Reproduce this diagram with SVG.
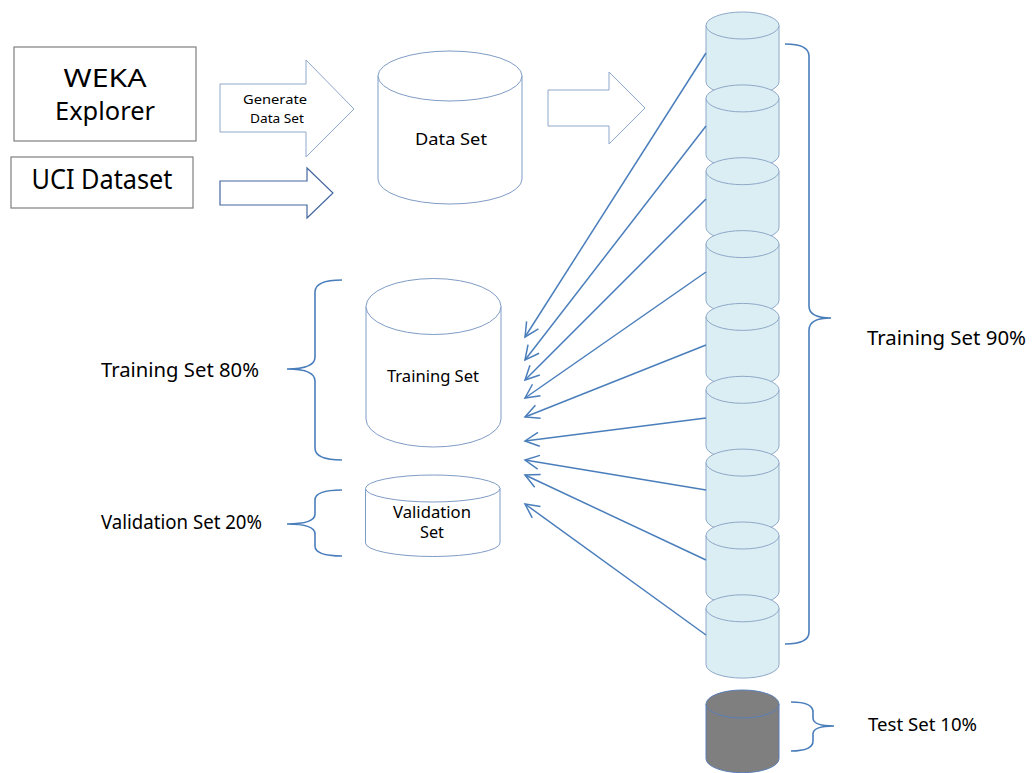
<svg xmlns="http://www.w3.org/2000/svg" width="1034" height="773" viewBox="0 0 1034 773">
<style>
text{font-family:"Noto Sans","Open Sans","Liberation Sans",sans-serif;fill:#000}
.box{fill:#fff;stroke:#7f7f7f;stroke-width:1.2}
.cyl{fill:#fff;stroke:#7f9cc5;stroke-width:1}
.col{fill:#dbeef4;stroke:#8ea8c8;stroke-width:1}
.test{fill:#7f7f7f;stroke:#5b7fb8;stroke-width:1}
.brace{fill:none;stroke:#4a7ebb;stroke-width:1.6}
.conn{fill:none;stroke:#4a7ebb;stroke-width:1.5}
.barrow{fill:#fff;stroke:#8ea8cc;stroke-width:1}
.barrow2{fill:#fff;stroke:#44679f;stroke-width:1.2}
</style>
<defs>
<marker id="open" markerUnits="userSpaceOnUse" markerWidth="20" markerHeight="20" refX="0" refY="0" orient="auto" overflow="visible">
<path d="M-14,-7 L0,0 L-14,7" fill="none" stroke="#4a7ebb" stroke-width="1.5"/>
</marker>
</defs>
<rect width="1034" height="773" fill="#fff"/>

<g id="weka">
<rect class="box" x="14" y="47" width="182" height="94"/>
<text x="105" y="87" font-size="25" text-anchor="middle" textLength="83" lengthAdjust="spacingAndGlyphs">WEKA</text>
<text x="105" y="120" font-size="25" text-anchor="middle" textLength="100" lengthAdjust="spacingAndGlyphs">Explorer</text>
</g>
<g id="uci">
<rect class="box" x="11" y="157" width="182" height="51"/>
<text x="102" y="189" font-size="27" text-anchor="middle" textLength="141" lengthAdjust="spacingAndGlyphs">UCI Dataset</text>
</g>
<g id="generate-arrow">
<polygon class="barrow" points="220,84 306,84 306,60 354,109 306,157 306,132 220,132"/>
<text x="275" y="104" font-size="13" text-anchor="middle" textLength="64" lengthAdjust="spacingAndGlyphs">Generate</text>
<text x="277" y="123" font-size="13" text-anchor="middle" textLength="54" lengthAdjust="spacingAndGlyphs">Data Set</text>
</g>
<g id="uci-arrow">
<polygon class="barrow2" points="220,181 307,181 307,168 333,193 307,218 307,205 220,205"/>
</g>
<g id="dataset">
<path class="cyl" d="M378,76 A72,25 0 0,1 522,76 L522,179 A72,25 0 0,1 378,179 Z"/>
<path class="cyl" fill="none" d="M378,76 A72,25 0 0,0 522,76"/>
<text x="451" y="145" font-size="16" text-anchor="middle" textLength="72" lengthAdjust="spacingAndGlyphs">Data Set</text>
</g>
<g id="split-arrow">
<polygon class="barrow" points="548,90 609,90 609,72 645,108 609,144 609,126 548,126"/>
</g>

<g id="training-set">
<path class="cyl" d="M366,306.5 A67.5,28 0 0,1 501,306.5 L501,419 A67.5,28 0 0,1 366,419 Z"/>
<path class="cyl" fill="none" d="M366,306.5 A67.5,28 0 0,0 501,306.5"/>
<text x="433" y="382" font-size="16" text-anchor="middle" textLength="92" lengthAdjust="spacingAndGlyphs">Training Set</text>
</g>
<g id="validation-set">
<path class="cyl" d="M365.5,488.5 A67.25,13.5 0 0,1 500,488.5 L500,543 A67.25,13.5 0 0,1 365.5,543 Z"/>
<path class="cyl" fill="none" d="M365.5,488.5 A67.25,13.5 0 0,0 500,488.5"/>
<text x="432" y="518" font-size="16" text-anchor="middle" textLength="78" lengthAdjust="spacingAndGlyphs">Validation</text>
<text x="432" y="538" font-size="16" text-anchor="middle" textLength="24" lengthAdjust="spacingAndGlyphs">Set</text>
</g>

<g id="fold-column">
<g id="fold1"><path class="col" d="M706,25.5 A36.5,13.5 0 0,1 779,25.5 L779,81.8 A36.5,13.5 0 0,1 706,81.8 Z"/><path class="col" fill="none" d="M706,25.5 A36.5,13.5 0 0,0 779,25.5"/></g>
<g id="fold2"><path class="col" d="M706,98.4 A36.5,13.5 0 0,1 779,98.4 L779,154.7 A36.5,13.5 0 0,1 706,154.7 Z"/><path class="col" fill="none" d="M706,98.4 A36.5,13.5 0 0,0 779,98.4"/></g>
<g id="fold3"><path class="col" d="M706,171.2 A36.5,13.5 0 0,1 779,171.2 L779,227.5 A36.5,13.5 0 0,1 706,227.5 Z"/><path class="col" fill="none" d="M706,171.2 A36.5,13.5 0 0,0 779,171.2"/></g>
<g id="fold4"><path class="col" d="M706,244.1 A36.5,13.5 0 0,1 779,244.1 L779,300.4 A36.5,13.5 0 0,1 706,300.4 Z"/><path class="col" fill="none" d="M706,244.1 A36.5,13.5 0 0,0 779,244.1"/></g>
<g id="fold5"><path class="col" d="M706,316.9 A36.5,13.5 0 0,1 779,316.9 L779,373.2 A36.5,13.5 0 0,1 706,373.2 Z"/><path class="col" fill="none" d="M706,316.9 A36.5,13.5 0 0,0 779,316.9"/></g>
<g id="fold6"><path class="col" d="M706,389.8 A36.5,13.5 0 0,1 779,389.8 L779,446.1 A36.5,13.5 0 0,1 706,446.1 Z"/><path class="col" fill="none" d="M706,389.8 A36.5,13.5 0 0,0 779,389.8"/></g>
<g id="fold7"><path class="col" d="M706,462.6 A36.5,13.5 0 0,1 779,462.6 L779,518.9 A36.5,13.5 0 0,1 706,518.9 Z"/><path class="col" fill="none" d="M706,462.6 A36.5,13.5 0 0,0 779,462.6"/></g>
<g id="fold8"><path class="col" d="M706,535.5 A36.5,13.5 0 0,1 779,535.5 L779,591.8 A36.5,13.5 0 0,1 706,591.8 Z"/><path class="col" fill="none" d="M706,535.5 A36.5,13.5 0 0,0 779,535.5"/></g>
<g id="fold9"><path class="col" d="M706,608.3 A36.5,13.5 0 0,1 779,608.3 L779,664.6 A36.5,13.5 0 0,1 706,664.6 Z"/><path class="col" fill="none" d="M706,608.3 A36.5,13.5 0 0,0 779,608.3"/></g>
</g>
<g id="test-set">
<path class="test" d="M706,704 A36.5,14 0 0,1 779,704 L779,758.7 A36.5,14 0 0,1 706,758.7 Z"/>
<path class="test" fill="none" d="M706,704 A36.5,14 0 0,0 779,704"/>
</g>

<g id="connectors">
<line class="conn" x1="706" y1="53" x2="525" y2="337" marker-end="url(#open)"/>
<line class="conn" x1="706" y1="126" x2="525" y2="360" marker-end="url(#open)"/>
<line class="conn" x1="706" y1="199" x2="525" y2="380" marker-end="url(#open)"/>
<line class="conn" x1="706" y1="272" x2="525" y2="398" marker-end="url(#open)"/>
<line class="conn" x1="706" y1="345" x2="525" y2="417" marker-end="url(#open)"/>
<line class="conn" x1="706" y1="418" x2="525" y2="441" marker-end="url(#open)"/>
<line class="conn" x1="706" y1="490" x2="525" y2="460" marker-end="url(#open)"/>
<line class="conn" x1="706" y1="560" x2="525" y2="475" marker-end="url(#open)"/>
<line class="conn" x1="706" y1="635" x2="525" y2="504" marker-end="url(#open)"/>
</g>

<g id="braces">
<path class="brace" d="M785,44 Q809,44 809,56 L809,306 Q809,318 831,318 Q809,318 809,330 L809,632 Q809,644 785,644"/>
<path class="brace" d="M342,280 Q315,280 315,292 L315,357 Q315,369 287,369 Q315,369 315,381 L315,448 Q315,460 342,460"/>
<path class="brace" d="M342,490 Q315,490 315,500 L315,514 Q315,524 287,524 Q315,524 315,534 L315,546 Q315,556 342,556"/>
<path class="brace" d="M791,702 Q813,702 813,712 L813,718 Q813,726 834,726 Q813,726 813,734 L813,741 Q813,751 791,751"/>
</g>

<g id="labels">
<text x="867" y="345" font-size="19" textLength="159" lengthAdjust="spacingAndGlyphs">Training Set 90%</text>
<text x="101" y="377" font-size="19" textLength="158" lengthAdjust="spacingAndGlyphs">Training Set 80%</text>
<text x="101" y="529" font-size="19" textLength="161" lengthAdjust="spacingAndGlyphs">Validation Set 20%</text>
<text x="868" y="731" font-size="18.5" textLength="109" lengthAdjust="spacingAndGlyphs">Test Set 10%</text>
</g>
</svg>
